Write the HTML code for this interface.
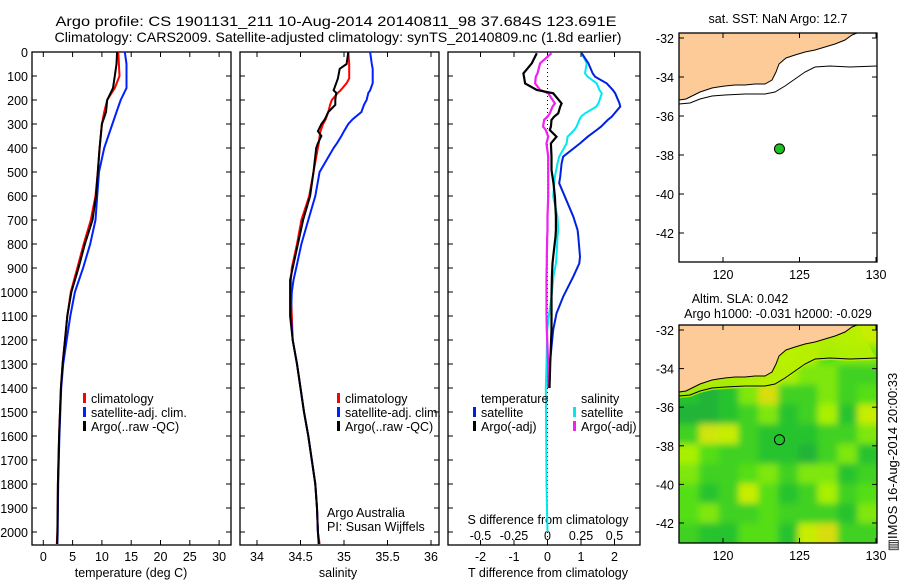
<!DOCTYPE html>
<html><head><meta charset="utf-8"><style>
body{margin:0;background:#fff;}
svg{display:block;font-family:"Liberation Sans",sans-serif;}
text{fill:#000;}
</style></head><body>
<svg id="fig" width="900" height="580" viewBox="0 0 900 580" xmlns="http://www.w3.org/2000/svg">
<defs>
<filter id="blur" x="-10%" y="-10%" width="120%" height="120%"><feGaussianBlur stdDeviation="3.5"/></filter>
<clipPath id="clipMap2"><rect x="679" y="325" width="198" height="218"/></clipPath>
</defs>
<text x="336" y="26" font-size="14" textLength="561" lengthAdjust="spacingAndGlyphs" text-anchor="middle">Argo profile: CS 1901131_211 10-Aug-2014 20140811_98 37.684S 123.691E</text>
<text x="338" y="42" font-size="14" textLength="567" lengthAdjust="spacingAndGlyphs" text-anchor="middle">Climatology: CARS2009. Satellite-adjusted climatology: synTS_20140809.nc (1.8d earlier)</text>
<g id="g1"></g>
<g id="g2"></g>
<g id="g3"></g>
<g id="m1"></g>
<g id="m2"></g>
<text transform="translate(897,462) rotate(-90)" font-size="13" text-anchor="middle">▥IMOS 16-Aug-2014 20:00:33</text>
</svg>
<script>
// ---------- data ----------
const depthsT = [0,50,100,150,200,250,300,400,500,600,700,800,900,1000,1100,1200,1300,1400,1500,1600,1700,1800,1900,2000,2050];
const tempArgo = [12.6,12.5,12.2,11.9,10.9,10.7,10.0,9.6,9.3,9.0,8.4,7.1,6.0,4.8,4.1,3.7,3.3,3.0,2.85,2.7,2.6,2.5,2.45,2.4,2.35];
const tempClim = [12.8,12.9,13.0,12.2,10.9,10.4,10.0,9.6,9.3,8.9,8.1,6.9,5.8,4.7,4.1,3.7,3.3,3.0,2.85,2.7,2.6,2.5,2.45,2.4,2.3];
const tempSat  = [13.9,14.2,14.2,14.2,13.2,12.5,11.8,10.4,9.5,9.2,8.9,8.0,6.8,5.4,4.6,4.0,3.4,3.05,2.9,2.75,2.65,2.55,2.5,2.45,2.4];
const depthsS = [0,50,70,110,130,160,170,200,220,250,280,300,330,350,380,400,500,600,700,800,900,950,1000,1100,1200,1300,1400,1500,1600,1700,1800,1900,2000,2050];
const salArgo = [35.05,35.03,34.95,34.93,34.91,34.88,34.91,34.90,34.90,34.82,34.78,34.74,34.70,34.74,34.70,34.68,34.65,34.61,34.53,34.47,34.41,34.38,34.38,34.38,34.41,34.46,34.50,34.54,34.59,34.63,34.67,34.69,34.70,34.71];
const salClim = [35.05,35.06,35.06,35.06,35.03,34.96,34.93,34.86,34.84,34.82,34.79,34.76,34.73,34.72,34.71,34.70,34.65,34.60,34.51,34.46,34.40,34.39,34.39,34.40,34.41,34.46,34.50,34.54,34.59,34.63,34.67,34.69,34.70,34.72];
const salSat  = [35.30,35.32,35.33,35.33,35.33,35.30,35.28,35.26,35.23,35.20,35.10,35.05,35.00,34.97,34.92,34.88,34.72,34.67,34.59,34.51,34.45,34.42,34.40,34.39,34.41,34.46,34.50,34.54,34.59,34.63,34.67,34.69,34.70,34.71];
const depthsD = [5,47,89,103,131,158,172,214,228,256,269,283,311,325,353,381,436,464,492,519,547,603,686,742,769,853,881,936,1019,1089,1158,1300,1400,1600,1800,2000];
const dTempSat = [1.02,1.22,1.35,1.42,1.77,1.95,2.02,2.15,2.17,2.0,1.92,1.8,1.6,1.47,1.2,0.97,0.47,0.42,0.4,0.38,0.35,0.52,0.77,0.9,0.92,0.97,0.95,0.77,0.47,0.27,0.17,0.07,0.05,null,null,null];
const dTempArgo = [-0.32,-0.47,-0.72,-0.7,-0.67,-0.32,0.17,0.42,0.38,0.32,0.2,0.12,0.1,0.07,0.27,0.1,0.12,0.12,0.12,0.15,0.18,0.22,0.25,0.25,0.24,0.17,0.15,0.13,0.12,0.12,0.12,0.08,0.06,null,null,null];
const dSalSat = [1.02,1.17,1.12,1.2,1.47,1.55,1.62,1.52,1.45,1.12,1.0,0.95,0.87,0.8,0.6,0.57,0.35,0.3,0.26,0.22,0.2,0.17,0.3,0.32,0.3,0.27,0.25,0.18,0.12,0.05,-0.01,-0.03,-0.05,-0.04,-0.03,0.0];
const dSalArgo = [0.12,-0.22,-0.3,-0.35,-0.37,-0.22,0.02,0.22,0.15,0.07,0.0,-0.1,-0.13,-0.05,0.02,-0.03,0.02,0.02,0.02,0.02,0.02,0.02,0.0,0.0,-0.01,-0.02,-0.02,-0.03,-0.03,-0.03,-0.02,0.02,0.02,null,null,null];
const tempTicks = [0,5,10,15,20,25,30];
const salTicks = [34,34.5,35,35.5,36];
const tDiffTicks = [-2,-1,0,1,2];
const sDiffTicks = ["-0.5","-0.25","0","0.25","0.5"];
const depthTicks = [0,100,200,300,400,500,600,700,800,900,1000,1100,1200,1300,1400,1500,1600,1700,1800,1900,2000];
const lonTicks = [120,125,130];
const latTicks = [-32,-34,-36,-38,-40,-42];
const floatLon = 123.691, floatLat = -37.684;
// SLA field (0 = low/dark green, 1 = high/yellow), rows top->bottom
const slaGrid = [
[0.7,0.7,0.7,0.7,0.7,0.7,0.8,0.6,0.7,0.8],
[0.7,0.7,0.7,0.7,0.7,0.75,0.7,0.5,0.6,0.6],
[0.7,0.6,0.5,0.6,0.7,0.7,0.6,0.6,0.4,0.4],
[0.3,0.2,0.3,0.6,0.9,0.4,0.4,0.6,0.4,0.5],
[0.2,0.2,0.3,0.4,0.6,0.3,0.4,0.7,0.3,0.8],
[0.4,0.85,0.8,0.4,0.3,0.3,0.3,0.4,0.4,0.6],
[0.7,0.5,0.4,0.4,0.3,0.3,0.2,0.4,0.6,0.3],
[0.6,0.4,0.4,0.5,0.6,0.4,0.6,0.6,0.3,0.4],
[0.5,0.3,0.4,0.8,0.5,0.3,0.4,0.7,0.4,0.5],
[0.5,0.6,0.4,0.4,0.5,0.4,0.4,0.4,0.3,0.6],
[0.4,0.3,0.3,0.5,0.5,0.3,0.8,0.9,0.4,0.4]];

// ---------- helpers ----------
const NS="http://www.w3.org/2000/svg";
function mk(parent,tag,attrs,txt){const e=document.createElementNS(NS,tag);for(const k in attrs)e.setAttribute(k,attrs[k]);if(txt!==undefined)e.textContent=txt;parent.appendChild(e);return e;}
const Y0=52, PY=0.24, BOT=545;
const yD=d=>Y0+d*PY;
const xT=v=>43.3+v*5.86;
const xS=v=>257+(v-34)*87;
const xDf=v=>547.5+v*33.5;

function frame(g,x0,x1,name){
  const r=mk(g,'rect',{x:x0,y:Y0,width:x1-x0,height:BOT-Y0,fill:'none',stroke:'#000','stroke-width':1.3});
  
  
  depthTicks.forEach(d=>{
    mk(g,'line',{x1:x0,x2:x0+5,y1:yD(d),y2:yD(d),stroke:'#000'});
    mk(g,'line',{x1:x1-5,x2:x1,y1:yD(d),y2:yD(d),stroke:'#000'});
  });
}
function line(g,xs,ds,fx,color,w,name){
  let pts=[];
  for(let i=0;i<ds.length;i++){ if(xs[i]===null||xs[i]===undefined) continue; pts.push(fx(xs[i]).toFixed(1)+','+yD(ds[i]).toFixed(1)); }
  const p=mk(g,'polyline',{points:pts.join(' '),fill:'none',stroke:color,'stroke-width':w,'stroke-linejoin':'miter'});
  
  
}
function xticks(g,ticks,fx,labels){
  ticks.forEach((t,i)=>{
    const x=fx(t);
    mk(g,'line',{x1:x,x2:x,y1:BOT,y2:BOT-5,stroke:'#000'});
    mk(g,'line',{x1:x,x2:x,y1:Y0,y2:Y0+5,stroke:'#000'});
    const tl=mk(g,'text',{x:x,y:BOT+16,'font-size':12.5,'text-anchor':'middle'},labels?labels[i]:String(t));
    
    
  });
}
function legend(g,x,y,items){
  items.forEach((it,i)=>{
    if(it.c) mk(g,'rect',{x:x,y:y+i*14-10,width:3,height:10,fill:it.c});
    const t=mk(g,'text',{x:x+8,y:y+i*14,'font-size':12.5},it.t);
    
    
  });
}

// ---------- panel 1: temperature ----------
const g1=document.getElementById('g1');
frame(g1,32,231,'temperature');
depthTicks.forEach(d=>{const t=mk(g1,'text',{x:28,y:yD(d)+5,'font-size':12.5,'text-anchor':'end'},String(d));
  
  });
xticks(g1,tempTicks,xT);
mk(g1,'text',{x:131,y:577,'font-size':12.5,'text-anchor':'middle'},'temperature (deg C)');
line(g1,tempClim,depthsT,xT,'#f00',2,'temperature-climatology-line');
line(g1,tempSat,depthsT,xT,'#0020ff',2,'temperature-satellite-line');
line(g1,tempArgo,depthsT,xT,'#000',2,'temperature-argo-line');
legend(g1,83,403,[{c:'#f00',t:'climatology'},{c:'#0020ff',t:'satellite-adj. clim.'},{c:'#000',t:'Argo(..raw -QC)'}]);

// ---------- panel 2: salinity ----------
const g2=document.getElementById('g2');
frame(g2,240,439,'salinity');
xticks(g2,salTicks,xS);
mk(g2,'text',{x:338,y:577,'font-size':12.5,'text-anchor':'middle'},'salinity');
line(g2,salClim,depthsS,xS,'#f00',2,'salinity-climatology-line');
line(g2,salSat,depthsS,xS,'#0020ff',2,'salinity-satellite-line');
line(g2,salArgo,depthsS,xS,'#000',2,'salinity-argo-line');
legend(g2,337,403,[{c:'#f00',t:'climatology'},{c:'#0020ff',t:'satellite-adj. clim.'},{c:'#000',t:'Argo(..raw -QC)'}]);
mk(g2,'text',{x:327,y:517,'font-size':12.5},'Argo Australia');
mk(g2,'text',{x:327,y:531,'font-size':12.5},'PI: Susan Wijffels');

// ---------- panel 3: differences ----------
const g3=document.getElementById('g3');
frame(g3,448,640,'difference');
xticks(g3,tDiffTicks,xDf);
mk(g3,'line',{x1:xDf(0),x2:xDf(0),y1:Y0,y2:yD(2050),stroke:'#000','stroke-dasharray':'1,3'});
sDiffTicks.forEach((s,i)=>{mk(g3,'text',{x:xDf(tDiffTicks[i]),y:540,'font-size':12.5,'text-anchor':'middle'},s);});
mk(g3,'text',{x:548,y:524,'font-size':12.5,'text-anchor':'middle'},'S difference from climatology');
mk(g3,'text',{x:548,y:577,'font-size':12.5,'text-anchor':'middle'},'T difference from climatology');
line(g3,dSalSat,depthsD,xDf,'#00e8f0',2,'salinity-satellite-diff-line');
line(g3,dTempSat,depthsD,xDf,'#0020e0',2,'temperature-satellite-diff-line');
line(g3,dSalArgo,depthsD,xDf,'#f020f0',2.2,'salinity-argo-diff-line');
line(g3,dTempArgo,depthsD,xDf,'#000',2.2,'temperature-argo-diff-line');
legend(g3,473,403,[{t:'temperature'},{c:'#0020e0',t:'satellite'},{c:'#000',t:'Argo(-adj)'}]);
legend(g3,573,403,[{t:'salinity'},{c:'#00e8f0',t:'satellite'},{c:'#f020f0',t:'Argo(-adj)'}]);

// ---------- maps ----------
const coast=[[679,100],[686,99],[692,96],[700,92],[706,90],[712,88],[718,87],[725,86],[735,85],[745,85],[755,84],[765,84],[772,80],[776,72],[779,64],[786,58],[795,55],[805,52],[815,50],[825,47],[835,44],[845,40],[852,35],[857,33]];
const iso=[[679,104],[690,103],[700,99],[712,96],[725,95],[745,94],[765,94],[775,92],[785,86],[795,79],[805,72],[815,67],[830,66],[850,67],[877,66]];
function drawMap(id,yTop,yBot,lat32,lat42,title,heat){
  const g=document.getElementById(id);
  const x0=679,x1=877, dy=yTop-33;
  const xL=l=>723+(l-120)*15.3;
  const yL=l=>lat32+(-32-l)*(lat42-lat32)/10;
  if(heat){
    const hg=mk(g,'g',{'clip-path':'url(#clipMap2)'});
    const inner=mk(hg,'g',{filter:'url(#blur)'});
    const cols=slaGrid[0].length, rows=slaGrid.length;
    const cw=(x1-x0)/cols, ch=(yBot-yTop)/rows;
    const col=v=>{const st=[[0,[25,150,75]],[0.3,[40,195,45]],[0.5,[85,222,20]],[0.75,[190,245,0]],[1,[235,205,20]]];
      for(let i=1;i<st.length;i++){if(v<=st[i][0]){const a=st[i-1],b=st[i],f=(v-a[0])/(b[0]-a[0]);return 'rgb('+a[1].map((c,k)=>Math.round(c+(b[1][k]-c)*f)).join(',')+')';}}return 'rgb(235,205,20)';};
    for(let r=-1;r<=rows;r++)for(let c=-1;c<=cols;c++){
      const rr=Math.min(rows-1,Math.max(0,r)), cc=Math.min(cols-1,Math.max(0,c));
      const cell=mk(inner,'rect',{x:x0+c*cw,y:yTop+r*ch,width:cw+0.5,height:ch+0.5,fill:col(slaGrid[rr][cc])});
      
      
    }
    const band=coast.map(p=>p[0]+','+(p[1]+dy)).join(' ')+' '+iso.slice().reverse().map(p=>p[0]+','+(p[1]+dy+2)).join(' ');
    mk(hg,'polygon',{points:band,fill:'#b8f000',opacity:0.85});
  }
  const land=[[679,yTop]].concat(coast.map(p=>[p[0],p[1]+dy])).concat([[877,yTop]]);
  const lp=mk(g,'polygon',{points:land.map(p=>p.join(',')).join(' '),fill:'#fccb98',stroke:'#000','stroke-width':1});
  
  
  mk(g,'polyline',{points:iso.map(p=>p[0]+','+(p[1]+dy)).join(' '),fill:'none',stroke:'#000','stroke-width':1});
  mk(g,'rect',{x:x0,y:yTop,width:x1-x0,height:yBot-yTop,fill:'none',stroke:'#000','stroke-width':1.3});
  lonTicks.forEach(l=>{const x=xL(l);
    mk(g,'line',{x1:x,x2:x,y1:yTop,y2:yTop+5,stroke:'#000'});
    mk(g,'line',{x1:x,x2:x,y1:yBot,y2:yBot-5,stroke:'#000'});
    mk(g,'text',{x:x,y:yBot+17,'font-size':12.5,'text-anchor':'middle'},String(l));});
  latTicks.forEach(l=>{const y=yL(l);
    mk(g,'line',{x1:x0,x2:x0+5,y1:y,y2:y,stroke:'#000'});
    mk(g,'line',{x1:x1-5,x2:x1,y1:y,y2:y,stroke:'#000'});
    mk(g,'text',{x:674,y:y+5,'font-size':12.5,'text-anchor':'end'},String(l));});
  const fp=mk(g,'circle',{cx:xL(floatLon),cy:yL(floatLat),r:5,fill:heat?'none':'#20c020',stroke:'#000','stroke-width':1});
  
  
  title.forEach(t=>{mk(g,'text',{x:t[0],y:t[1],'font-size':12.5,'text-anchor':'middle'},t[2]);});
}
drawMap('m1',33,262,38,233,[[778,23,'sat. SST: NaN Argo: 12.7']],false);
drawMap('m2',325,543,330,523,[[740,303,'Altim. SLA: 0.042'],[778,318,'Argo h1000: -0.031 h2000: -0.029']],true);
</script>
</body></html>
